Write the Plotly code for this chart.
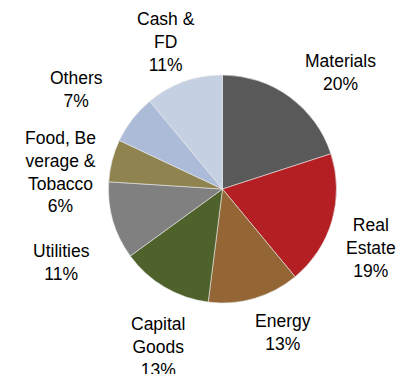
import plotly.graph_objects as go

sectors = ["Materials", "Real Estate", "Energy", "Capital Goods", "Utilities",
           "Food, Beverage & Tobacco", "Others", "Cash & FD"]
label_text = ["Materials", "Real<br>Estate", "Energy", "Capital<br>Goods", "Utilities",
              "Food, Be<br>verage &<br>Tobacco", "Others", "Cash &<br>FD"]
weights = [20, 19, 13, 13, 11, 6, 7, 11]
colors = ["#595959", "#B41F24", "#946635", "#4F622B", "#808080",
          "#8F8450", "#ACBCD8", "#C6D0E3"]

# label block centres in pixels (layout only)
label_pos = [(340, 72), (371, 248), (283, 332), (158, 347), (61, 262),
             (60, 172), (76, 90), (166, 42)]

W, H = 399, 374
cx, cy, r = 222.5, 189, 114

fig = go.Figure(go.Pie(
    labels=sectors,
    values=weights,
    sort=False,
    direction="clockwise",
    rotation=0,
    textinfo="none",
    hoverinfo="label+percent",
    marker=dict(colors=colors, line=dict(color="#e8e8e8", width=0.6)),
    domain=dict(x=[(cx - r) / W, (cx + r) / W],
                y=[(H - cy - r) / H, (H - cy + r) / H]),
))

for txt, v, (px, py) in zip(label_text, weights, label_pos):
    fig.add_annotation(
        x=px / W, y=1 - py / H, xref="paper", yref="paper",
        text=f"{txt}<br>{v}%", showarrow=False,
        xanchor="center", yanchor="middle", align="center",
        font=dict(family="Liberation Sans, Arial, sans-serif", size=17.5, color="#000000"),
    )

fig.update_layout(
    width=W, height=H,
    margin=dict(l=0, r=0, t=0, b=0),
    paper_bgcolor="white", plot_bgcolor="white",
    showlegend=False,
)

fig.write_html("out.html")
